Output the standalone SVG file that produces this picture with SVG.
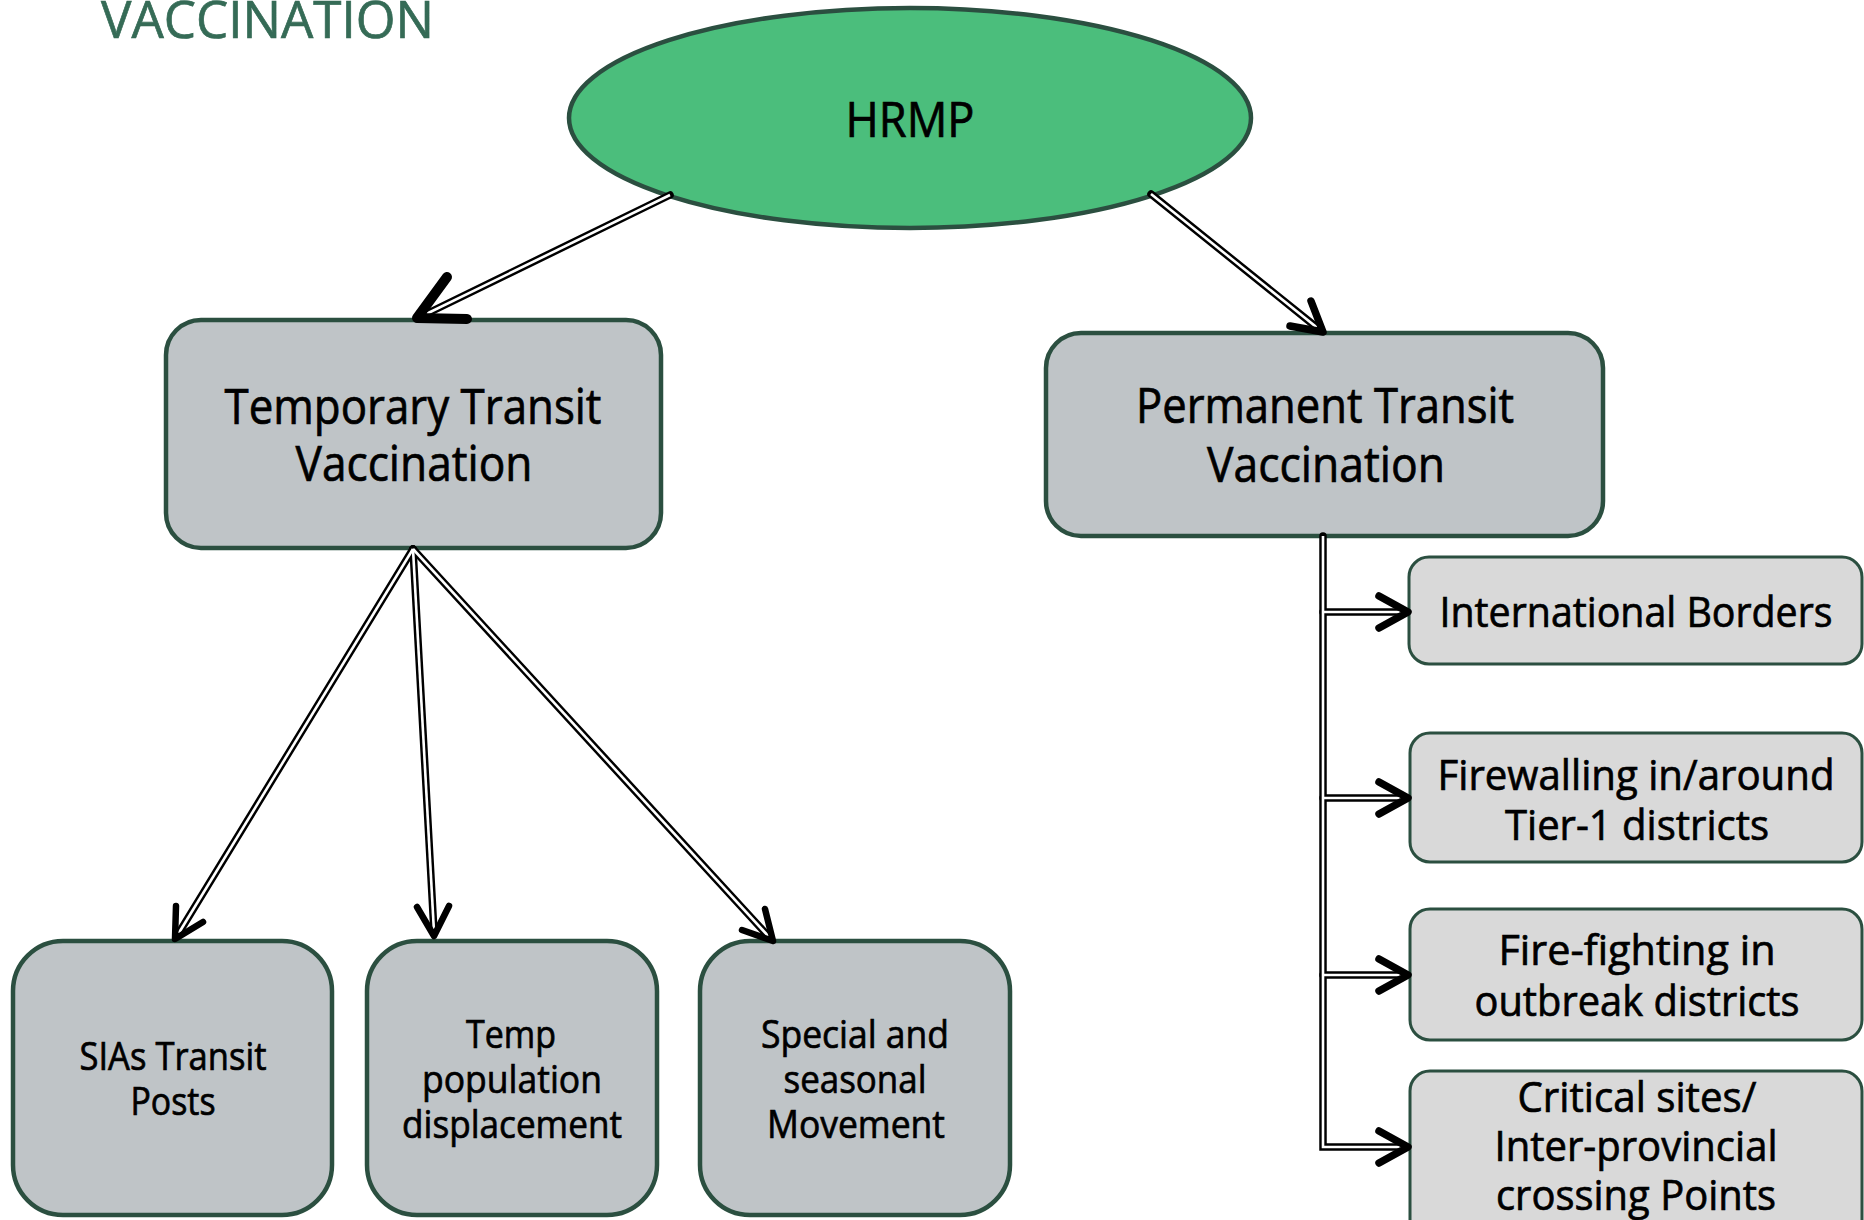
<svg xmlns="http://www.w3.org/2000/svg" width="1864" height="1220" viewBox="0 0 1864 1220">
<style>
  text { font-family: "Open Sans", "Noto Sans", "DejaVu Sans", sans-serif; fill: #000; stroke: #000; stroke-width: 0.7; text-anchor: middle; }
  .title { fill: #356B56; stroke: #356B56; font-size: 52px; text-anchor: start; }
  .big { font-size: 49px; }
  .mid { font-size: 42px; }
  .small { font-size: 38px; }
  .box { fill: #BFC4C7; stroke: #2B4F40; stroke-width: 4.5; }
  .lbox { fill: #D9D9D9; stroke: #2B4F40; stroke-width: 3; }
  .ell { fill: #4BBE7C; stroke: #2B4F40; stroke-width: 4.5; }
  .outer { fill: none; stroke: #000; stroke-width: 7.5; stroke-linecap: round; stroke-linejoin: miter; }
  .inner { fill: none; stroke: #fff; stroke-width: 2.6; stroke-linecap: butt; stroke-linejoin: miter; }
  .head { fill: none; stroke: #000; stroke-width: 7.5; stroke-linecap: round; stroke-linejoin: round; }
</style>
<rect x="0" y="0" width="1864" height="1220" fill="#fff"/>
<text class="title" x="101" y="38" textLength="333" lengthAdjust="spacingAndGlyphs">VACCINATION</text>

<g id="node-hrmp">
  <ellipse class="ell" cx="910" cy="118" rx="341" ry="110"/>
  <text class="big" x="910" y="137" textLength="129" lengthAdjust="spacingAndGlyphs">HRMP</text>
</g>
<g id="node-temporary">
  <rect class="box" x="166" y="320" width="495" height="228" rx="35"/>
  <text class="big" x="413" y="424" textLength="377" lengthAdjust="spacingAndGlyphs">Temporary Transit</text>
  <text class="big" x="414" y="481" textLength="237" lengthAdjust="spacingAndGlyphs">Vaccination</text>
</g>
<g id="node-permanent">
  <rect class="box" x="1046" y="333" width="557" height="203" rx="35"/>
  <text class="big" x="1325" y="423" textLength="378" lengthAdjust="spacingAndGlyphs">Permanent Transit</text>
  <text class="big" x="1326" y="482" textLength="238" lengthAdjust="spacingAndGlyphs">Vaccination</text>
</g>
<g id="node-sias">
  <rect class="box" x="13" y="941" width="319" height="274" rx="50"/>
  <text class="small" x="173" y="1070" textLength="187" lengthAdjust="spacingAndGlyphs">SIAs Transit</text>
  <text class="small" x="173" y="1115" textLength="85" lengthAdjust="spacingAndGlyphs">Posts</text>
</g>
<g id="node-temp-pop">
  <rect class="box" x="367" y="941" width="290" height="274" rx="50"/>
  <text class="small" x="511" y="1048" textLength="90" lengthAdjust="spacingAndGlyphs">Temp</text>
  <text class="small" x="512" y="1093" textLength="180" lengthAdjust="spacingAndGlyphs">population</text>
  <text class="small" x="512" y="1138" textLength="220" lengthAdjust="spacingAndGlyphs">displacement</text>
</g>
<g id="node-special">
  <rect class="box" x="700" y="941" width="310" height="274" rx="50"/>
  <text class="small" x="855" y="1048" textLength="188" lengthAdjust="spacingAndGlyphs">Special and</text>
  <text class="small" x="855" y="1093" textLength="143" lengthAdjust="spacingAndGlyphs">seasonal</text>
  <text class="small" x="856" y="1138" textLength="178" lengthAdjust="spacingAndGlyphs">Movement</text>
</g>
<g id="node-international">
  <rect class="lbox" x="1409" y="557" width="453" height="107" rx="20"/>
  <text class="mid" x="1636" y="627" textLength="393" lengthAdjust="spacingAndGlyphs">International Borders</text>
</g>
<g id="node-firewalling">
  <rect class="lbox" x="1410" y="733" width="452" height="129" rx="20"/>
  <text class="mid" x="1636" y="790" textLength="397" lengthAdjust="spacingAndGlyphs">Firewalling in/around</text>
  <text class="mid" x="1637" y="840" textLength="264" lengthAdjust="spacingAndGlyphs">Tier-1 districts</text>
</g>
<g id="node-firefighting">
  <rect class="lbox" x="1410" y="909" width="452" height="131" rx="20"/>
  <text class="mid" x="1637" y="965" textLength="277" lengthAdjust="spacingAndGlyphs">Fire-fighting in</text>
  <text class="mid" x="1637" y="1016" textLength="325" lengthAdjust="spacingAndGlyphs">outbreak districts</text>
</g>
<g id="node-critical">
  <rect class="lbox" x="1410" y="1071" width="452" height="170" rx="20"/>
  <text class="mid" x="1637" y="1112" textLength="239" lengthAdjust="spacingAndGlyphs">Critical sites/</text>
  <text class="mid" x="1636" y="1161" textLength="283" lengthAdjust="spacingAndGlyphs">Inter-provincial</text>
  <text class="mid" x="1636" y="1210" textLength="280" lengthAdjust="spacingAndGlyphs">crossing Points</text>
</g>

<g id="connectors">
  <g class="outer">
    <path d="M670,195 L420,317"/>
    <path d="M1151,194 L1320,330"/>
    <path d="M413,549 L177,936"/>
    <path d="M413,549 L434,932"/>
    <path d="M413,549 L770,938"/>
    <path d="M1323,536 V1147 H1404"/>
    <path d="M1323,612 H1404"/>
    <path d="M1323,798 H1404"/>
    <path d="M1323,975 H1404"/>
  </g>
  <g class="inner">
    <path d="M670,195 L420,317"/>
    <path d="M1151,194 L1320,330"/>
    <path d="M413,549 L177,936"/>
    <path d="M413,549 L434,932"/>
    <path d="M413,549 L770,938"/>
    <path d="M1323,536 V1147 H1404"/>
    <path d="M1323,612 H1404"/>
    <path d="M1323,798 H1404"/>
    <path d="M1323,975 H1404"/>
  </g>
  <path class="head" style="stroke-width:10" d="M447,277 L417,318 L467,319"/>
  <path class="head" d="M1311,301 L1323,332 L1290,326"/>
  <path class="head" style="stroke-width:6.5" d="M176,906 L175,939 L203,922"/>
  <path class="head" style="stroke-width:6.5" d="M417,907 L434,936 L449,906"/>
  <path class="head" style="stroke-width:6.5" d="M765,909 L773,941 L742,930"/>
  <path class="head" d="M1379,596 L1408,612 L1379,628"/>
  <path class="head" d="M1379,782 L1408,798 L1379,814"/>
  <path class="head" d="M1379,959 L1408,975 L1379,991"/>
  <path class="head" d="M1379,1131 L1408,1147 L1379,1163"/>
</g>
</svg>
